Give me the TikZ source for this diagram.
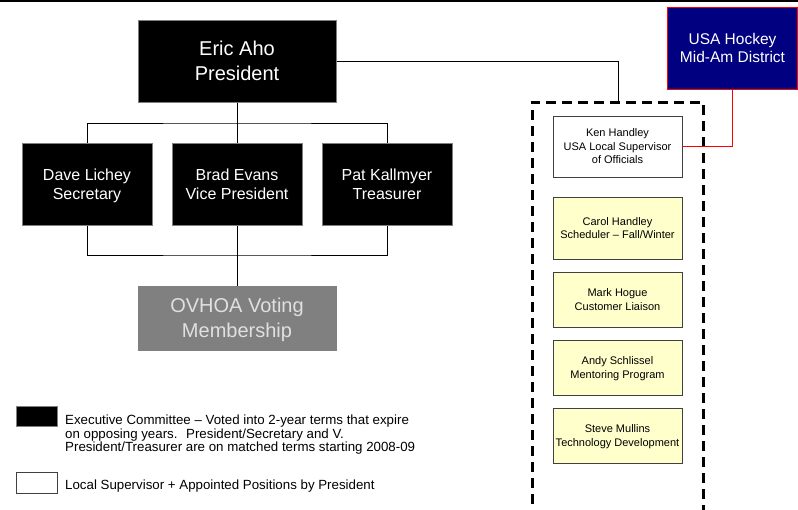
\documentclass[tikz,border=0pt]{standalone}
\usepackage{fontspec}
\setmainfont{Liberation Sans}
\definecolor{ovgray}{HTML}{808080}
\definecolor{postyellow}{HTML}{FFFFCC}
\definecolor{usanavy}{HTML}{000080}
\definecolor{boxedge}{HTML}{7F7F7F}
\definecolor{postedge}{HTML}{404040}

\begin{document}
\begin{tikzpicture}
[x=1pt,y=-1pt,
  execDecorate/.style={shape=rectangle,fill=black,draw=boxedge,line width=1pt,
    text=white,align=center,inner sep=0pt,text depth=0pt,
    minimum width=130pt,minimum height=82pt,
    font=\fontsize{16}{18.5}\selectfont},%
  bigDecorate/.style={execDecorate,minimum width=198pt,
    font=\fontsize{20}{25}\selectfont},%
  postDecorate/.style={shape=rectangle,fill=postyellow,draw=postedge,line width=1pt,
    align=center,inner sep=0pt,text depth=0pt,minimum width=129pt,
    font=\fontsize{11}{13.5}\selectfont},%
  lineDecorate/.style={-,line width=1pt},%
  legendDecorate/.style={shape=rectangle,line width=1pt,minimum width=41pt,
    inner sep=0pt,minimum height=20pt},%
  legendText/.style={align=left,inner sep=0pt,
    font=\fontsize{13.3}{13.8}\selectfont}]
\useasboundingbox (0,0) rectangle (798,509);
\clip (0,0) rectangle (798,509);
\draw[line width=2.5pt] (0,1) -- (798,1);
%% executive committee
\node (eric) at (237,61) [bigDecorate] {Eric Aho\\President};
\foreach \nodename/\x/\boxtext in {
  dave/87/{Dave Lichey\\Secretary},
  brad/237/{Brad Evans\\Vice President},
  pat/387/{Pat Kallmyer\\Treasurer}}
{
  \node (\nodename) at (\x,184) [execDecorate] {\boxtext};
}
\node (ovhoa) at (237,318) [bigDecorate,fill=ovgray,draw=ovgray,
  text=white!88!black,minimum height=64pt] {OVHOA Voting\\Membership};
\node (usa) at (732.5,48) [execDecorate,fill=usanavy,draw=red,
  font=\fontsize{15.5}{18}\selectfont] {USA Hockey\\Mid-Am District};
%% appointed positions
\node (ken) at (617.5,146.5) [postDecorate,fill=white,minimum height=61pt]
  {Ken Handley\\USA Local Supervisor\\of Officials};
\foreach \nodename/\y/\h/\boxtext in {
  carol/228/62/{Carol Handley\\Scheduler -- Fall/Winter},
  mark/299.5/55/{Mark Hogue\\Customer Liaison},
  andy/367.5/55/{Andy Schlissel\\Mentoring Program},
  steve/435.5/55/{Steve Mullins\\Technology Development}}
{
  \node (\nodename) at (617.5,\y) [postDecorate,minimum height=\h pt] {\boxtext};
}
\draw[line width=3pt,dash pattern=on 10pt off 6pt]
  (532,520) -- (532,102) -- (703,102) -- (703,520);
%% edges or lines
\coordinate (topbus) at (237,123);
\coordinate (lowbus) at (237,255);
\coordinate (apptop) at (618,102);
\draw[lineDecorate] (eric.south) -- (topbus);
\draw[lineDecorate] (dave.north) |- (topbus) -| (pat.north);
\draw[lineDecorate] (topbus) -- (brad.north);
\draw[lineDecorate] (dave.south) |- (lowbus) -| (pat.south);
\draw[lineDecorate] (brad.south) -- (ovhoa.north);
\draw[lineDecorate] (eric.east) -| (apptop);
\draw[lineDecorate,red] (usa.south) |- (ken.east);
%% legend
\node (legExec) at (36.5,416) [legendDecorate,fill=black,draw=boxedge] {};
\node (legPost) at (36.5,482.5) [legendDecorate,fill=white,draw=postedge,
  minimum height=21pt] {};
\node (legExecText) at (65,414.5) [legendText,anchor=north west]
  {Executive Committee -- Voted into 2-year terms that expire\\
   on opposing years.~ President/Secretary and V.\\
   President/Treasurer are on matched terms starting 2008-09};
\node (legPostText) at (65,489.5) [legendText,anchor=base west]
  {Local Supervisor + Appointed Positions by President};
\end{tikzpicture}
\end{document}
